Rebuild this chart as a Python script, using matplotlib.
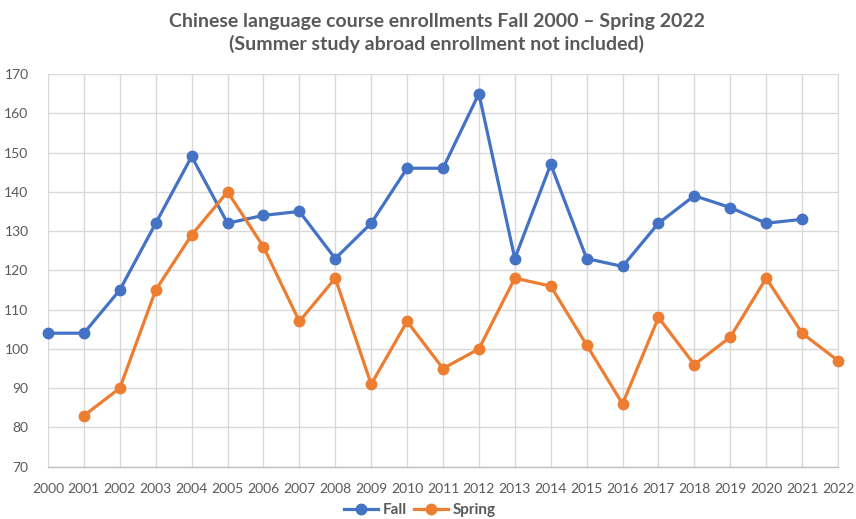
import matplotlib
matplotlib.use("Agg")
import matplotlib.pyplot as plt
import numpy as np

years = [str(y) for y in range(2000, 2023)]
fall = [104, 104, 115, 132, 149, 132, 134, 135, 123, 132, 146, 146, 165, 123, 147, 123, 121, 132, 139, 136, 132, 133, None]
spring = [None, 83, 90, 115, 129, 140, 126, 107, 118, 91, 107, 95, 100, 118, 116, 101, 86, 108, 96, 103, 118, 104, 97]
title = "Chinese language course enrollments Fall 2000 \u2013 Spring 2022\n(Summer study abroad enrollment not included)"

plt.rcParams['font.family'] = ['Lato', 'DejaVu Sans']
W, H = 856, 519
fig = plt.figure(figsize=(W / 100, H / 100), dpi=100)
ax = fig.add_axes([48 / W, (H - 466.7) / H, (838 - 48) / W, (466.7 - 74) / H])

x = np.arange(len(years))
f = np.array([np.nan if v is None else v for v in fall], dtype=float)
s = np.array([np.nan if v is None else v for v in spring], dtype=float)

ax.plot(x, f, color='#4472C4', lw=2.3, marker='o', ms=7.5, label='Fall', zorder=3, clip_on=False)
ax.plot(x, s, color='#ED7D31', lw=2.3, marker='o', ms=7.5, label='Spring', zorder=3, clip_on=False)

ax.set_xlim(0, len(years) - 1)
ax.set_ylim(70, 170)
ax.set_yticks(range(70, 171, 10))
ax.set_xticks(x)
ax.set_xticklabels(years)
ax.grid(True, color='#D9D9D9', lw=1.0, zorder=0)
for sp in ['top', 'left']:
    ax.spines[sp].set_visible(False)
ax.spines['right'].set_color('#D9D9D9')
ax.spines['bottom'].set_color('#BFBFBF')
ax.spines['bottom'].set_linewidth(1.0)
ax.tick_params(length=0, labelsize=10, colors='#595959')
ax.tick_params(axis='x', pad=12)
ax.tick_params(axis='y', pad=14)

fig.text(437 / W, 1 - 33 / H, title, ha='center', va='center', fontsize=14,
         fontweight='bold', color='#595959', linespacing=1.3)

leg = fig.legend(loc='center', bbox_to_anchor=(420 / W, 1 - 510 / H), ncol=2, frameon=False,
                 fontsize=11, handlelength=2.2, columnspacing=0.5, handletextpad=0.3)
for t in leg.get_texts():
    t.set_color('#595959')
    t.set_fontweight('bold')

fig.savefig('out.png', dpi=100)
